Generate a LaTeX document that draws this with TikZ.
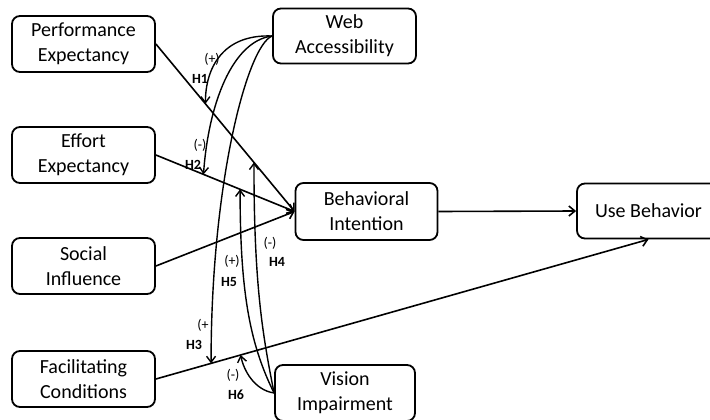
\documentclass[tikz,border=0pt]{standalone}
\usepackage{fontspec}
\setmainfont{Carlito}
\usetikzlibrary{arrows.meta}

\begin{document}
\begin{tikzpicture}[x=1pt,y=-1pt,
  box/.style={draw,line width=1.8pt,rounded corners=8pt,align=center,inner sep=0pt,
    minimum width=143pt,minimum height=56pt,font=\fontsize{20}{25}\selectfont},
  link/.style={line width=1.6pt,-{Straight Barb[length=6pt,width=10pt]}},
  mod/.style={line width=1.4pt,-{Straight Barb[length=6pt,width=9pt]}},
  sign/.style={font=\fontsize{14}{14}\selectfont,inner sep=0pt},
  hyp/.style={font=\bfseries\fontsize{14}{14}\selectfont,inner sep=0pt}]
\fill[white] (0,0) rectangle (710,420);
\useasboundingbox (0,0) rectangle (710,420);
\clip (0,0) rectangle (710,420);

% constructs
\node[box] (pe) at (83.5,44)  {Performance\\Expectancy};
\node[box] (ee) at (83.5,155) {Effort\\Expectancy};
\node[box] (si) at (83.5,266) {Social\\Influence};
\node[box] (fc) at (83.5,379) {Facilitating\\Conditions};
\node[box,minimum height=55pt] (wa) at (344.5,36) {Web\\Accessibility};
\node[box,minimum width=142pt,minimum height=57pt] (bi) at (366.5,211.5) {Behavioral\\Intention};
\node[box,minimum height=55pt] (ub) at (648.5,211) {Use Behavior};
\node[box,minimum width=140pt] (vi) at (345,393) {Vision\\Impairment};

% direct paths
\draw[link] (pe.east) -- (bi.west);
\draw[link] (ee.east) -- (bi.west);
\draw[link] (si.east) -- (bi.west);
\draw[link] (bi.east) -- (ub.west);
\draw[link] (fc.east) -- (ub.south);

% points where the moderators act
\path (pe.east) -- (bi.west) coordinate[pos=0.357] (h1) coordinate[pos=0.707] (h4);
\path (ee.east) -- (bi.west) coordinate[pos=0.343] (h2) coordinate[pos=0.607] (h5);
\path (fc.east) -- (ub.south) coordinate[pos=0.112] (h3) coordinate[pos=0.172] (h6);

% moderating effects
\draw[mod] (wa.west) .. controls +(-50,-2) and +(0,-35) .. (h1);
\draw[mod] (wa.west) .. controls +(-40,5) and +(5,-70) .. (h2);
\draw[mod] (wa.west) .. controls +(-25,10) and +(0,-180) .. (h3);
\draw[mod] (vi.west) .. controls +(-20,-3) and +(3,15) .. (h6);
\draw[mod] (vi.west) .. controls +(-25,-50) and +(0,100) .. (h5);
\draw[mod] (vi.west) .. controls +(-12,-60) and +(0,120) .. (h4);

% hypothesis labels
\node[sign] (s1) at (212,59)  {(+)};
\node[hyp]  (l1) at (200,79)  {H1};
\node[sign] (s2) at (200,145) {(-)};
\node[hyp]  (l2) at (193,165) {H2};
\node[sign] (s3) at (203,325) {(+};
\node[hyp]  (l3) at (194,345) {H3};
\node[sign] (s4) at (270,243) {(-)};
\node[hyp]  (l4) at (277,262) {H4};
\node[sign] (s5) at (232,261) {(+)};
\node[hyp]  (l5) at (229,282) {H5};
\node[sign] (s6) at (233,375) {(-)};
\node[hyp]  (l6) at (236,395) {H6};
\end{tikzpicture}
\end{document}
